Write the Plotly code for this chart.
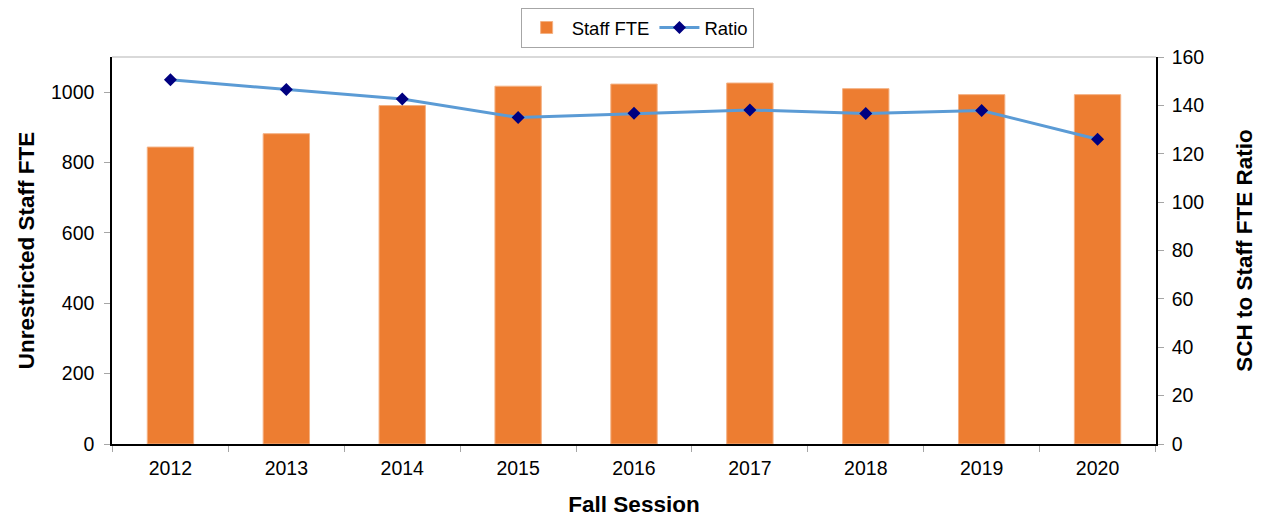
import plotly.graph_objects as go

years = ["2012", "2013", "2014", "2015", "2016", "2017", "2018", "2019", "2020"]
staff_fte = [844, 882, 962, 1017, 1023, 1026, 1010, 993, 993]
ratio = [150.6, 146.6, 142.6, 135.0, 136.7, 138.1, 136.6, 137.9, 126.0]

font_family = "Liberation Sans, Arial, sans-serif"

fig = go.Figure()
fig.add_trace(go.Bar(
    x=years, y=staff_fte, name="Staff FTE",
    marker=dict(color="#ED7D31", line=dict(color="#F4B183", width=1)),
    width=0.4,
))
fig.add_trace(go.Scatter(
    x=years, y=ratio, name="Ratio", yaxis="y2", mode="lines+markers",
    line=dict(color="#5B9BD5", width=3),
    marker=dict(symbol="diamond", size=10, color="#000080"),
))

# the page body adds an 8px offset, so the figure is sized to end at the window edge
fig.update_layout(
    width=1257, height=510,
    margin=dict(l=104, r=109, t=49, b=74),
    paper_bgcolor="white", plot_bgcolor="white",
    font=dict(family=font_family, size=19.5, color="black"),
    showlegend=True,
    legend=dict(
        orientation="h", x=0.503, xanchor="center",
        yref="container", y=1, yanchor="top",
        bordercolor="#A6A6A6", borderwidth=1, font=dict(size=18.5),
        itemwidth=40,
    ),
    xaxis=dict(
        type="category", showline=True, linecolor="black", linewidth=1.5,
        ticks="outside", tickson="boundaries", tickcolor="#A6A6A6", ticklen=6,
        ticklabelstandoff=6, automargin=False,
        title=dict(text="<b>Fall Session</b>", font=dict(size=22.5), standoff=18),
        showgrid=False,
    ),
    yaxis=dict(
        range=[0, 1100], dtick=200, showline=True, linecolor="black", linewidth=1.5,
        ticks="outside", tickcolor="#A6A6A6", ticklen=6, showgrid=False, zeroline=False,
        ticklabelstandoff=6, automargin=False,
        title=dict(text="<b>Unrestricted Staff FTE</b>", font=dict(size=22.5), standoff=10),
    ),
    yaxis2=dict(
        range=[0, 160], dtick=20, overlaying="y", side="right",
        showline=True, linecolor="black", linewidth=1.5,
        ticks="outside", tickcolor="#A6A6A6", ticklen=6, showgrid=False, zeroline=False,
        ticklabelstandoff=4, automargin=False,
        title=dict(text="<b>SCH to Staff FTE Ratio</b>", font=dict(size=22.5), standoff=33),
    ),
    shapes=[dict(type="line", xref="paper", yref="paper", x0=0, x1=1, y0=1, y1=1,
                 line=dict(color="#D9D9D9", width=2))],
)

fig.write_html("out.html")
